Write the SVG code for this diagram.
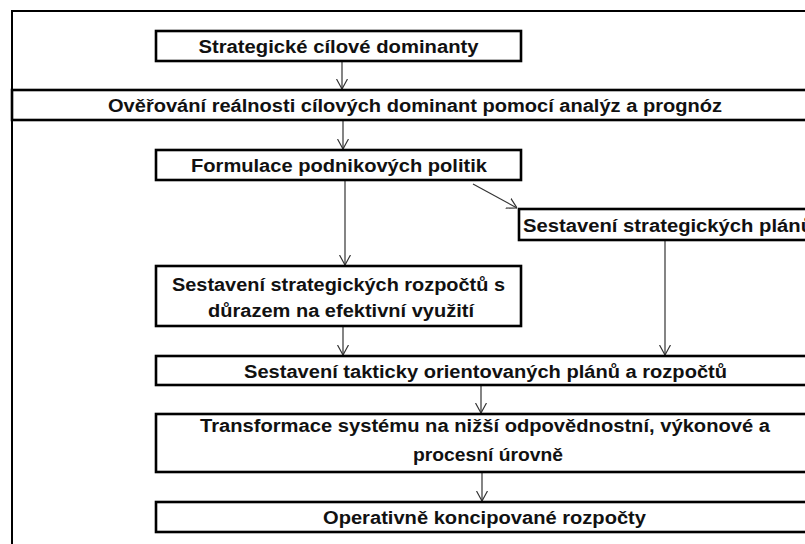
<svg xmlns="http://www.w3.org/2000/svg" width="805" height="544" viewBox="0 0 805 544">
<defs>
<style>
.box{fill:#fff;stroke:#000;stroke-width:2.6}
.frame{fill:#fff;stroke:#000;stroke-width:2}
.t{font-family:"Liberation Sans",Arial,sans-serif;font-weight:bold;font-size:18px;fill:#111;text-anchor:middle}
.c{stroke:#333;stroke-width:1.2;fill:none}
</style>
<marker id="ah" viewBox="0 0 10 12" refX="10" refY="6" markerWidth="10" markerHeight="12" markerUnits="userSpaceOnUse" orient="auto">
<path d="M0,0.5 L10,6 L0,11.5" fill="none" stroke="#333" stroke-width="1.2"/>
</marker>
</defs>
<rect x="0" y="0" width="805" height="544" fill="#fff"/>
<rect class="frame" x="12" y="11" width="900" height="600"/>
<g id="connectors">
<line class="c" x1="342" y1="62" x2="342" y2="89" marker-end="url(#ah)"/>
<line class="c" x1="343" y1="121" x2="343" y2="149" marker-end="url(#ah)"/>
<line class="c" x1="345" y1="181" x2="345" y2="265" marker-end="url(#ah)"/>
<line class="c" x1="473" y1="184" x2="517" y2="208" marker-end="url(#ah)"/>
<line class="c" x1="665" y1="241" x2="665" y2="355" marker-end="url(#ah)"/>
<line class="c" x1="343" y1="327" x2="343" y2="355" marker-end="url(#ah)"/>
<line class="c" x1="481" y1="386" x2="481" y2="413" marker-end="url(#ah)"/>
<line class="c" x1="482" y1="473" x2="482" y2="501" marker-end="url(#ah)"/>
</g>
<g id="n1"><rect class="box" x="156" y="31" width="365" height="30"/><text class="t" x="338.5" y="52.5" textLength="280" lengthAdjust="spacingAndGlyphs">Strategické cílové dominanty</text></g>
<g id="n2"><rect class="box" x="12" y="90" width="806" height="30"/><text class="t" x="415" y="112" textLength="614" lengthAdjust="spacingAndGlyphs">Ověřování reálnosti cílových dominant pomocí analýz a prognóz</text></g>
<g id="n3"><rect class="box" x="156" y="150" width="365" height="30"/><text class="t" x="339" y="171.5" textLength="296" lengthAdjust="spacingAndGlyphs">Formulace podnikových politik</text></g>
<g id="n4"><rect class="box" x="519" y="209" width="320" height="31"/><text class="t" x="523" y="232" style="text-anchor:start" textLength="290" lengthAdjust="spacingAndGlyphs">Sestavení strategických plánů</text></g>
<g id="n5"><rect class="box" x="156" y="266" width="365" height="60"/><text class="t" x="338.5" y="291" textLength="333" lengthAdjust="spacingAndGlyphs">Sestavení strategických rozpočtů s</text><text class="t" x="341" y="317" textLength="266" lengthAdjust="spacingAndGlyphs">důrazem na efektivní využití</text></g>
<g id="n6"><rect class="box" x="156" y="356" width="660" height="29"/><text class="t" x="485.5" y="378" textLength="483" lengthAdjust="spacingAndGlyphs">Sestavení takticky orientovaných plánů a rozpočtů</text></g>
<g id="n7"><rect class="box" x="156" y="414" width="660" height="58"/><text class="t" x="485" y="432" textLength="570" lengthAdjust="spacingAndGlyphs">Transformace systému na nižší odpovědnostní, výkonové a</text><text class="t" x="488" y="461" textLength="150" lengthAdjust="spacingAndGlyphs">procesní úrovně</text></g>
<g id="n8"><rect class="box" x="156" y="502" width="660" height="30"/><text class="t" x="484.5" y="523.5" textLength="323" lengthAdjust="spacingAndGlyphs">Operativně koncipované rozpočty</text></g>
</svg>
